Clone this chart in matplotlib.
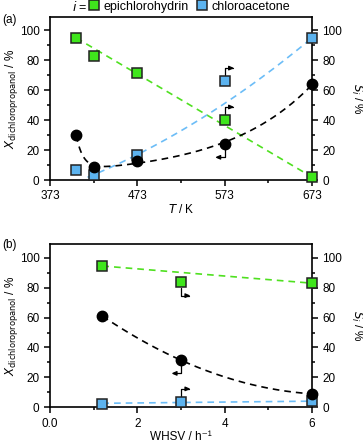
import numpy as np
import matplotlib.pyplot as plt
from matplotlib.lines import Line2D
from matplotlib.transforms import offset_copy

plt.rcParams.update({
    "font.family": ["Liberation Sans", "DejaVu Sans"],
    "font.size": 8.5,
    "xtick.direction": "out",
    "ytick.direction": "out",
    "axes.linewidth": 1.2,
})

# Panel (a): temperature series
T = [403, 423, 473, 573, 673]
X_a = [30, 9, 13, 24, 64]           # conversion of dichloropropanol
S_epi_a = [95, 83, 71.5, 40, 2]      # selectivity epichlorohydrin
S_cla_a = [7, 3.5, 17, 66, 95]       # selectivity chloroacetone

# Panel (b): WHSV series
whsv = [1.2, 3.0, 6.0]
X_b = [61, 31.5, 9]
S_epi_b = [94.5, 83.5, 83]
S_cla_b = [2.5, 3.5, 4]

green = "#3fe61c"
blue = "#5cb3ef"
gline = "#4fe020"
bline = "#6cbdf7"

fig = plt.figure(figsize=(3.63, 4.45), dpi=100)
ax1 = fig.add_axes([0.1377, 0.5955, 0.7218, 0.3663])
ax2 = fig.add_axes([0.1377, 0.0847, 0.7218, 0.3663])

dash = (0, (4, 3))


def bent_arrow(ax, x, y, up, right):
    # small bent arrow pointing to the axis the point belongs to
    sy = 1 if up else -1
    sx = 1 if right else -1
    start = offset_copy(ax.transData, fig=fig, x=0, y=3.8 * sy, units="points")
    tip = offset_copy(ax.transData, fig=fig, x=7 * sx, y=9.5 * sy, units="points")
    ax.annotate("", xy=(x, y), xycoords=tip, xytext=(x, y), textcoords=start,
                arrowprops=dict(arrowstyle="-|>,head_length=0.35,head_width=0.15",
                                lw=0.9, color="k", shrinkA=0, shrinkB=0,
                                connectionstyle="angle,angleA=90,angleB=0,rad=0"))


def style(ax):
    ax.set_ylim(0, 109)
    ax.set_yticks(np.arange(0, 101, 20))
    ax.set_yticks(np.arange(10, 100, 20), minor=True)
    ax.tick_params(which="major", length=4, width=1.1)
    ax.tick_params(which="minor", length=2.5, width=1.1)
    ax.tick_params(axis="y", which="both", right=True, labelright=True)
    ax.set_ylabel(r"$X_{\mathrm{dichloropropanol}}$ / %")
    ax.yaxis.set_label_coords(-0.113, 0.5)
    ax.text(1.17, 0.5, r"$S_i$ / %", rotation=270, transform=ax.transAxes,
            ha="center", va="center")
    ax.xaxis.label.set_va("center")
    ax.xaxis.set_label_coords(0.5, -0.18)


# ---- panel (a)
ax = ax1
tt = np.linspace(403, 673, 200)
ax.plot(tt, np.polyval(np.polyfit(T[::4], S_epi_a[::4], 1), tt), color=gline, ls=dash, lw=1.2)
tb = np.linspace(416, 673, 200)
sel = [1, 2, 4]
ax.plot(tb, np.polyval(np.polyfit([T[i] for i in sel], [S_cla_a[i] for i in sel], 2), tb),
        color=bline, ls=dash, lw=1.2)
# guide to the eye: offset + slow rise + fast initial decay
Ta = np.array(T, float)
basis = lambda t: np.column_stack([np.ones_like(t), np.exp((t - 473) / 100), np.exp(-(t - 403) / 8)])
coef = np.linalg.lstsq(basis(Ta), np.array(X_a, float), rcond=None)[0]
ax.plot(tt, basis(tt) @ coef, color="k", ls=dash, lw=1.2)
ax.plot(T, S_epi_a, "s", ms=7, mfc=green, mec="#222222", mew=1.1, clip_on=False, zorder=5)
ax.plot(T, S_cla_a, "s", ms=7, mfc=blue, mec="#222222", mew=1.1, clip_on=False, zorder=5)
ax.plot(T, X_a, "o", ms=7.5, color="k", clip_on=False, zorder=6)
ax.set_xlim(373, 673)
ax.set_xticks([373, 473, 573, 673])
ax.set_xticks([423, 523, 623], minor=True)
ax.set_xlabel(r"$T$ / K")
style(ax)
bent_arrow(ax, T[3], S_cla_a[3], True, True)
bent_arrow(ax, T[3], S_epi_a[3], True, True)
bent_arrow(ax, T[3], X_a[3], False, False)

# ---- panel (b)
ax = ax2
ww = np.linspace(1.2, 6.0, 200)
ax.plot(ww, np.polyval(np.polyfit(whsv[::2], S_epi_b[::2], 1), ww), color=gline, ls=dash, lw=1.2)
ax.plot(ww, np.polyval(np.polyfit(whsv, S_cla_b, 1), ww), color=bline, ls=dash, lw=1.2)
ax.plot(ww, np.polyval(np.polyfit(whsv, X_b, 2), ww), color="k", ls=dash, lw=1.2)
ax.plot(whsv, S_epi_b, "s", ms=7, mfc=green, mec="#222222", mew=1.1, clip_on=False, zorder=5)
ax.plot(whsv, S_cla_b, "s", ms=7, mfc=blue, mec="#222222", mew=1.1, clip_on=False, zorder=5)
ax.plot(whsv, X_b, "o", ms=7.5, color="k", clip_on=False, zorder=6)
ax.set_xlim(0, 6)
ax.set_xticks([0, 2, 4, 6])
ax.set_xticklabels(["0.0", "2", "4", "6"])
ax.set_xticks([1, 3, 5], minor=True)
ax.set_xlabel("WHSV / h⁻¹")
style(ax)
bent_arrow(ax, whsv[1], S_epi_b[1], False, True)
bent_arrow(ax, whsv[1], X_b[1], False, False)
bent_arrow(ax, whsv[1], S_cla_b[1], True, True)

# legend and panel letters
handles = [Line2D([], [], ls="none", marker="s", ms=7, mfc=green, mec="#222222", mew=1.1),
           Line2D([], [], ls="none", marker="s", ms=7, mfc=blue, mec="#222222", mew=1.1)]
fig.legend(handles, ["epichlorohydrin", "chloroacetone"], ncol=2, frameon=False,
           loc="center left", bbox_to_anchor=(0.245, 0.985), handlelength=0.8,
           handletextpad=0.4, columnspacing=0.6, borderaxespad=0, borderpad=0,
           fontsize=9)
fig.text(0.198, 0.985, r"$i$ =", ha="left", va="center", fontsize=9)
fig.text(0.005, 0.955, "(a)", ha="left", va="center")
fig.text(0.005, 0.449, "(b)", ha="left", va="center")

fig.savefig("out.png", dpi=100)
